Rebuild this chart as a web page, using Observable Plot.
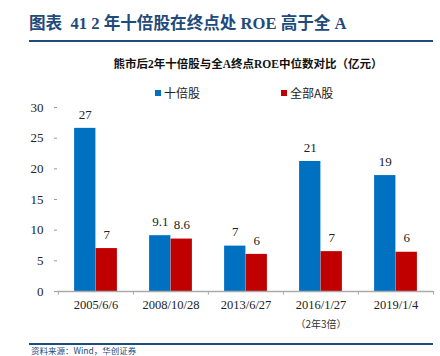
<!DOCTYPE html>
<html>
<head>
<meta charset="utf-8">
<script src="https://cdn.jsdelivr.net/npm/d3@7"></script>
<script src="https://cdn.jsdelivr.net/npm/@observablehq/plot@0.6"></script>
<style>
  html, body { margin: 0; padding: 0; background: #fff; }
  body { width: 440px; height: 356px; overflow: hidden; position: relative;
         font-family: "Liberation Serif", "Noto Sans CJK SC", serif; }
  .title { position: absolute; left: 29px; top: 10px; font-size: 16.6px; font-weight: bold;
           color: #1f4a7c; white-space: nowrap; }
  .rule { position: absolute; left: 29px; width: 404px; height: 2px; background: #1f4a7c; }
  .subtitle { position: absolute; left: 0; width: 496px; text-align: center; top: 55px;
              font-size: 11.5px; font-weight: bold; color: #111; white-space: nowrap; }
  .legend { position: absolute; top: 84px; font-size: 12px; color: #222; white-space: nowrap;
            font-family: "Noto Sans CJK SC", sans-serif; }
  .sw { display: inline-block; width: 6px; height: 6px; margin-right: 3px; vertical-align: 2px; }
  #chart { position: absolute; left: 0; top: 80px; }
  .source { position: absolute; left: 31px; top: 345px; font-size: 8.5px; line-height: 10px; color: #1f4a7c;
            font-family: "Noto Sans CJK SC", sans-serif; white-space: nowrap; }
</style>
</head>
<body>
<div class="title">图表&nbsp; 41 2 年十倍股在终点处 ROE 高于全 A</div>
<div class="rule" style="top:40px"></div>
<div class="subtitle">熊市后2年十倍股与全A终点ROE中位数对比（亿元）</div>
<div class="legend" style="left:155px"><span class="sw" style="background:#0070c0"></span>十倍股</div>
<div class="legend" style="left:281px"><span class="sw" style="background:#c00000"></span>全部A股</div>
<div id="chart"></div>
<div class="rule" style="top:343px"></div>
<div class="source">资料来源：Wind，华创证券</div>
<script>
const categories = ["2005/6/6", "2008/10/28", "2013/6/27", "2016/1/27", "2019/1/4"];
const tenBagger = [26.6, 9.1, 7.4, 21.2, 18.9];
const allA = [7.0, 8.55, 6.05, 6.5, 6.4];
const tenLabels = ["27", "9.1", "7", "21", "19"];
const allLabels = ["7", "8.6", "6", "7", "6"];
const yTicks = [0, 5, 10, 15, 20, 25, 30];
const noteCategory = "2016/1/27";
const noteText = "（2年3倍）";

const blue = "#0070c0", red = "#c00000";
const ten = categories.map((c, i) => ({cat: c, v: tenBagger[i], label: tenLabels[i]}));
const all = categories.map((c, i) => ({cat: c, v: allA[i], label: allLabels[i]}));

const W = 440, mL = 57, mR = 7;
const step = (W - mL - mR) / categories.length;
const barW = 21.5;
const inset = (step - barW) / 2;
const serif = "Liberation Serif, Noto Sans CJK SC, serif";

const plot = Plot.plot({
  width: W,
  height: 256,
  marginLeft: mL,
  marginRight: mR,
  marginTop: 27,
  marginBottom: 45,
  style: {fontFamily: serif, fontSize: "12.5px", color: "#222", background: "transparent"},
  x: {domain: categories, padding: 0, axis: null, label: null},
  y: {domain: [0, 30], axis: null, label: null},
  marks: [
    Plot.barY(ten, {x: "cat", y: "v", fill: blue, insetLeft: inset, insetRight: inset, dx: -barW / 2}),
    Plot.barY(all, {x: "cat", y: "v", fill: red, insetLeft: inset, insetRight: inset, dx: barW / 2}),
    Plot.text(ten, {x: "cat", y: "v", text: "label", dx: -barW / 2, dy: -14, fontSize: 13, fill: "#222"}),
    Plot.text(all, {x: "cat", y: "v", text: "label", dx: barW / 2, dy: -14, fontSize: 13, fill: "#222"}),
    Plot.axisY({ticks: yTicks, tickSize: 3, tickPadding: 11, stroke: "#999", fill: "#222", fontSize: 13,
      tickFormat: d => String(d), label: null}),
    Plot.ruleX([0], {frameAnchor: "left", y1: 0, y2: 30, stroke: "#aaa", strokeWidth: 1.2}),
    Plot.ruleY([0], {stroke: "#aaa", strokeWidth: 1.5}),
    Plot.ruleX(categories, {x: d => d, dx: -step / 2, y1: 0, y2: -0.6, stroke: "#aaa"}),
    Plot.ruleX([categories[categories.length - 1]], {x: d => d, dx: step / 2, y1: 0, y2: -0.6, stroke: "#aaa"}),
    Plot.axisX({tickSize: 0, tickPadding: 9, fontSize: 12.5, fill: "#222", label: null}),
    Plot.text([noteText], {x: () => noteCategory, y: () => 0, dy: 33, fontSize: 10, fill: "#333",
      fontFamily: "Noto Sans CJK SC, sans-serif"})
  ]
});
document.getElementById("chart").appendChild(plot);
</script>
</body>
</html>
